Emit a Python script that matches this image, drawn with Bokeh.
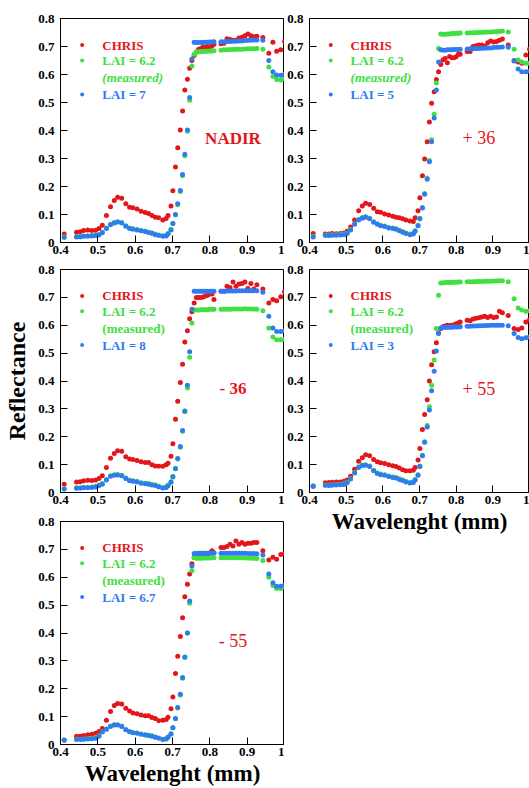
from bokeh.plotting import figure
from bokeh.layouts import row, column
from bokeh.models import FixedTicker, Label
from bokeh.embed import file_html
from bokeh.resources import INLINE

# ---------------- data ----------------
wavelength = [0.410, 0.443, 0.453, 0.462, 0.473, 0.484, 0.494, 0.503, 0.512, 0.523,
              0.534, 0.544, 0.553, 0.564, 0.575, 0.585, 0.594, 0.605, 0.616, 0.627,
              0.636, 0.645, 0.654, 0.663, 0.674, 0.683, 0.688, 0.696, 0.701, 0.708,
              0.714, 0.721, 0.727, 0.733, 0.740, 0.746, 0.752, 0.758, 0.764, 0.770,
              0.776, 0.782, 0.788, 0.794, 0.800, 0.806, 0.811, 0.830, 0.838, 0.846,
              0.854, 0.862, 0.870, 0.878, 0.886, 0.894, 0.902, 0.910, 0.918, 0.926,
              0.942, 0.958, 0.969, 0.979, 0.990, 1.000]

# NADIR
nadir_chris = [0.030, 0.037, 0.038, 0.043, 0.045, 0.043, 0.044, 0.050, 0.062, 0.096,
               0.128, 0.150, 0.162, 0.158, 0.138, 0.126, 0.124, 0.120, 0.112, 0.107,
               0.104, 0.096, 0.090, 0.088, 0.080, 0.086, 0.096, 0.130, 0.185, 0.270,
               0.338, 0.402, 0.470, 0.545, 0.583, 0.622, 0.650, 0.668, 0.680, 0.690,
               0.693, 0.698, 0.697, 0.700, 0.697, 0.703, 0.708, 0.710, 0.712, 0.728,
               0.725, 0.722, 0.722, 0.730, 0.733, 0.738, 0.745, 0.738, 0.735, 0.737,
               0.732, 0.676, 0.715, 0.683, 0.688, 0.718]
nadir_meas = [0.020, 0.021, 0.022, 0.023, 0.024, 0.025, 0.026, 0.029, 0.037, 0.052,
              0.065, 0.071, 0.074, 0.071, 0.060, 0.052, 0.049, 0.046, 0.043, 0.040,
              0.037, 0.034, 0.030, 0.027, 0.024, 0.025, 0.032, 0.046, 0.068, 0.098,
              0.135, 0.182, 0.238, 0.310, 0.397, 0.508, 0.630, 0.672, 0.680, 0.681,
              0.682, 0.682, 0.683, 0.683, 0.684, 0.684, 0.685, 0.687, 0.688, 0.688,
              0.689, 0.689, 0.690, 0.690, 0.690, 0.691, 0.692, 0.692, 0.692, 0.693,
              0.690, 0.627, 0.593, 0.582, 0.580, 0.585]
nadir_fit = [0.018, 0.020, 0.020, 0.022, 0.022, 0.023, 0.025, 0.027, 0.035, 0.050,
             0.063, 0.070, 0.073, 0.070, 0.058, 0.050, 0.047, 0.045, 0.042, 0.039,
             0.036, 0.033, 0.028, 0.025, 0.022, 0.023, 0.030, 0.045, 0.068, 0.100,
             0.138, 0.186, 0.243, 0.315, 0.402, 0.518, 0.655, 0.715, 0.714, 0.714,
             0.714, 0.715, 0.715, 0.715, 0.716, 0.716, 0.717, 0.717, 0.717, 0.718,
             0.718, 0.719, 0.719, 0.720, 0.720, 0.721, 0.722, 0.722, 0.723, 0.723,
             0.722, 0.650, 0.610, 0.598, 0.597, 0.600]

# +36
p36_chris = [0.032, 0.030, 0.030, 0.032, 0.031, 0.032, 0.034, 0.040, 0.055, 0.080,
             0.113, 0.130, 0.140, 0.136, 0.122, 0.110, 0.108, 0.102, 0.098, 0.094,
             0.090, 0.088, 0.085, 0.080, 0.077, 0.075, 0.088, 0.113, 0.160, 0.238,
             0.298, 0.360, 0.430, 0.497, 0.538, 0.582, 0.610, 0.636, 0.652, 0.657,
             0.642, 0.664, 0.660, 0.660, 0.663, 0.672, 0.672, 0.682, 0.682, 0.700,
             0.703, 0.705, 0.705, 0.702, 0.713, 0.720, 0.716, 0.718, 0.722, 0.727,
             0.705, 0.650, 0.645, 0.640, 0.670, 0.690]
p36_meas = [0.022, 0.027, 0.027, 0.028, 0.028, 0.029, 0.030, 0.034, 0.047, 0.067,
            0.082, 0.089, 0.092, 0.087, 0.074, 0.067, 0.062, 0.059, 0.054, 0.052,
            0.049, 0.044, 0.039, 0.034, 0.030, 0.032, 0.042, 0.062, 0.087, 0.125,
            0.175, 0.230, 0.293, 0.367, 0.458, 0.570, 0.693, 0.745, 0.743, 0.744,
            0.745, 0.745, 0.746, 0.746, 0.747, 0.747, 0.748, 0.748, 0.749, 0.749,
            0.750, 0.750, 0.751, 0.751, 0.752, 0.752, 0.753, 0.754, 0.754, 0.755,
            0.752, 0.690, 0.652, 0.645, 0.640, 0.640]
p36_fit = [0.020, 0.025, 0.025, 0.026, 0.026, 0.027, 0.028, 0.032, 0.045, 0.065,
           0.080, 0.087, 0.090, 0.085, 0.072, 0.065, 0.060, 0.057, 0.052, 0.050,
           0.047, 0.042, 0.037, 0.032, 0.028, 0.030, 0.040, 0.060, 0.085, 0.123,
           0.172, 0.226, 0.288, 0.360, 0.445, 0.545, 0.645, 0.688, 0.687, 0.687,
           0.688, 0.688, 0.688, 0.689, 0.689, 0.689, 0.690, 0.691, 0.692, 0.692,
           0.693, 0.693, 0.694, 0.694, 0.695, 0.695, 0.696, 0.697, 0.697, 0.698,
           0.697, 0.648, 0.620, 0.610, 0.610, 0.612]

# -36
m36_chris = [0.030, 0.038, 0.039, 0.042, 0.044, 0.043, 0.045, 0.050, 0.060, 0.090,
             0.123, 0.140, 0.150, 0.148, 0.128, 0.120, 0.118, 0.115, 0.110, 0.108,
             0.108, 0.100, 0.095, 0.094, 0.094, 0.100, 0.105, 0.130, 0.175, 0.263,
             0.327, 0.395, 0.460, 0.540, 0.580, 0.623, 0.648, 0.680, 0.700, 0.700,
             0.700, 0.701, 0.705, 0.708, 0.712, 0.712, 0.692, 0.722, 0.722, 0.740,
             0.735, 0.755, 0.740, 0.748, 0.750, 0.755, 0.732, 0.750, 0.730, 0.745,
             0.730, 0.680, 0.692, 0.688, 0.702, 0.720]
m36_meas = [0.014, 0.017, 0.017, 0.019, 0.019, 0.020, 0.022, 0.027, 0.032, 0.047,
            0.060, 0.064, 0.065, 0.062, 0.052, 0.044, 0.042, 0.040, 0.035, 0.033,
            0.032, 0.029, 0.027, 0.022, 0.018, 0.020, 0.026, 0.039, 0.058, 0.087,
            0.120, 0.162, 0.220, 0.290, 0.375, 0.485, 0.608, 0.655, 0.655, 0.655,
            0.656, 0.656, 0.656, 0.656, 0.657, 0.657, 0.657, 0.657, 0.657, 0.657,
            0.657, 0.658, 0.658, 0.658, 0.658, 0.659, 0.658, 0.658, 0.658, 0.657,
            0.652, 0.590, 0.558, 0.548, 0.548, 0.550]
m36_fit = [0.012, 0.015, 0.015, 0.017, 0.017, 0.018, 0.020, 0.025, 0.030, 0.045,
           0.058, 0.062, 0.063, 0.060, 0.050, 0.042, 0.040, 0.038, 0.033, 0.031,
           0.030, 0.027, 0.025, 0.020, 0.016, 0.018, 0.024, 0.037, 0.056, 0.085,
           0.122, 0.165, 0.222, 0.292, 0.385, 0.505, 0.657, 0.722, 0.722, 0.722,
           0.722, 0.722, 0.722, 0.722, 0.722, 0.722, 0.722, 0.722, 0.722, 0.723,
           0.723, 0.723, 0.723, 0.724, 0.724, 0.724, 0.724, 0.724, 0.724, 0.724,
           0.718, 0.632, 0.590, 0.578, 0.578, 0.580]

# +55
p55_chris = [0.022, 0.035, 0.036, 0.037, 0.038, 0.038, 0.040, 0.045, 0.058, 0.083,
             0.112, 0.125, 0.135, 0.132, 0.118, 0.110, 0.107, 0.104, 0.100, 0.096,
             0.093, 0.088, 0.082, 0.078, 0.078, 0.080, 0.090, 0.117, 0.158, 0.226,
             0.280, 0.333, 0.400, 0.458, 0.505, 0.537, 0.572, 0.588, 0.595, 0.597,
             0.600, 0.598, 0.600, 0.602, 0.605, 0.608, 0.612, 0.618, 0.616, 0.622,
             0.625, 0.627, 0.630, 0.632, 0.628, 0.632, 0.628, 0.630, 0.650, 0.645,
             0.635, 0.588, 0.585, 0.590, 0.612, 0.620]
p55_meas = [0.024, 0.027, 0.027, 0.028, 0.029, 0.030, 0.031, 0.037, 0.050, 0.072,
            0.092, 0.099, 0.100, 0.095, 0.080, 0.070, 0.066, 0.064, 0.059, 0.056,
            0.054, 0.049, 0.045, 0.040, 0.036, 0.038, 0.047, 0.064, 0.095, 0.134,
            0.182, 0.240, 0.308, 0.385, 0.475, 0.588, 0.708, 0.752, 0.752, 0.753,
            0.753, 0.753, 0.754, 0.754, 0.754, 0.755, 0.755, 0.756, 0.756, 0.756,
            0.757, 0.757, 0.757, 0.758, 0.758, 0.758, 0.759, 0.759, 0.760, 0.760,
            0.756, 0.695, 0.662, 0.655, 0.650, 0.652]
p55_fit = [0.022, 0.025, 0.025, 0.026, 0.027, 0.028, 0.029, 0.035, 0.048, 0.070,
           0.090, 0.097, 0.098, 0.093, 0.078, 0.068, 0.064, 0.062, 0.057, 0.054,
           0.052, 0.047, 0.043, 0.038, 0.034, 0.036, 0.045, 0.062, 0.093, 0.132,
           0.180, 0.235, 0.296, 0.365, 0.435, 0.508, 0.570, 0.590, 0.592, 0.592,
           0.593, 0.593, 0.593, 0.594, 0.594, 0.594, 0.595, 0.596, 0.596, 0.597,
           0.597, 0.598, 0.598, 0.599, 0.599, 0.600, 0.600, 0.600, 0.600, 0.600,
           0.598, 0.570, 0.556, 0.552, 0.555, 0.558]

# -55
m55_chris = [0.015, 0.030, 0.030, 0.032, 0.035, 0.037, 0.040, 0.047, 0.057, 0.087,
             0.118, 0.140, 0.147, 0.145, 0.130, 0.120, 0.113, 0.110, 0.106, 0.103,
             0.103, 0.097, 0.093, 0.085, 0.087, 0.090, 0.098, 0.128, 0.170, 0.255,
             0.317, 0.387, 0.455, 0.530, 0.575, 0.612, 0.648, 0.672, 0.672, 0.675,
             0.680, 0.683, 0.685, 0.685, 0.688, 0.695, 0.688, 0.707, 0.707, 0.710,
             0.718, 0.712, 0.730, 0.718, 0.725, 0.718, 0.722, 0.722, 0.725, 0.725,
             0.695, 0.662, 0.672, 0.665, 0.682, 0.685]
m55_meas = [0.016, 0.019, 0.019, 0.020, 0.021, 0.022, 0.023, 0.031, 0.046, 0.056,
            0.066, 0.071, 0.071, 0.066, 0.054, 0.047, 0.043, 0.041, 0.038, 0.035,
            0.033, 0.031, 0.027, 0.023, 0.019, 0.021, 0.027, 0.039, 0.060, 0.092,
            0.131, 0.178, 0.238, 0.312, 0.400, 0.507, 0.623, 0.670, 0.668, 0.668,
            0.668, 0.669, 0.669, 0.669, 0.669, 0.670, 0.670, 0.670, 0.670, 0.670,
            0.670, 0.670, 0.670, 0.670, 0.670, 0.669, 0.669, 0.668, 0.668, 0.667,
            0.660, 0.600, 0.570, 0.560, 0.560, 0.565]
m55_fit = [0.015, 0.018, 0.018, 0.019, 0.020, 0.021, 0.022, 0.030, 0.045, 0.055,
           0.065, 0.070, 0.070, 0.065, 0.053, 0.046, 0.042, 0.040, 0.037, 0.034,
           0.032, 0.030, 0.026, 0.022, 0.018, 0.020, 0.026, 0.038, 0.060, 0.093,
           0.133, 0.180, 0.240, 0.314, 0.400, 0.515, 0.640, 0.685, 0.685, 0.686,
           0.686, 0.686, 0.686, 0.686, 0.686, 0.687, 0.687, 0.686, 0.686, 0.686,
           0.686, 0.686, 0.686, 0.686, 0.686, 0.686, 0.685, 0.685, 0.685, 0.684,
           0.680, 0.612, 0.580, 0.568, 0.568, 0.572]

x_ticks = [0.4, 0.5, 0.6, 0.7, 0.8, 0.9, 1.0]
y_ticks = [0.0, 0.1, 0.2, 0.3, 0.4, 0.5, 0.6, 0.7, 0.8]
fit_labels = ["LAI = 7", "LAI = 5", "LAI = 8", "LAI = 3", "LAI = 6.7"]
angle_labels = ["NADIR", "+ 36", "- 36", "+ 55", "- 55"]

RED = "#e3161b"
GREEN = "#3fe03f"
BLUE = "#2f7cf2"
SERIF = "Liberation Serif"


def panel(width, height, bl, br, bt, bb, chris, meas, fit, fit_label, angle,
          angle_bold, angle_size, italic, xlabel=None, ylabel=None):
    p = figure(width=width, height=height, x_range=(0.4, 1.0), y_range=(0.0, 0.8),
               output_backend="svg", toolbar_location=None,
               min_border_left=bl, min_border_right=br,
               min_border_top=bt, min_border_bottom=bb)
    p.xgrid.visible = False
    p.ygrid.visible = False
    p.outline_line_color = "black"
    p.outline_line_width = 1
    p.background_fill_color = "white"
    p.border_fill_color = "white"

    p.xaxis.ticker = FixedTicker(ticks=x_ticks)
    p.yaxis.ticker = FixedTicker(ticks=y_ticks)
    p.xaxis.major_label_overrides = {1.0: "1"}
    p.yaxis.major_label_overrides = {0.0: "0"}
    for ax in (p.xaxis[0], p.yaxis[0]):
        ax.major_tick_in = 7
        ax.major_tick_out = 0
        ax.minor_tick_line_color = None
        ax.axis_line_color = "black"
        ax.major_tick_line_color = "black"
        ax.major_label_text_font = SERIF
        ax.major_label_text_font_style = "bold"
        ax.major_label_text_font_size = "13px"
        ax.major_label_text_color = "black"
    p.yaxis.major_label_standoff = 6
    p.xaxis.major_label_standoff = 3
    if xlabel:
        p.xaxis.axis_label = xlabel
        p.xaxis.axis_label_text_font = SERIF
        p.xaxis.axis_label_text_font_style = "bold"
        p.xaxis.axis_label_text_font_size = "23px"
        p.xaxis.axis_label_text_color = "black"
        p.xaxis.axis_label_standoff = 2
    if ylabel:
        p.yaxis.axis_label = ylabel
        p.yaxis.axis_label_text_font = SERIF
        p.yaxis.axis_label_text_font_style = "bold"
        p.yaxis.axis_label_text_font_size = "24px"
        p.yaxis.axis_label_text_color = "black"
        p.yaxis.axis_label_standoff = 5

    p.scatter(wavelength, chris, size=5, fill_color=RED, line_color=None)
    p.scatter(wavelength, meas, size=5, fill_color=GREEN, line_color=None)
    p.scatter(wavelength, fit, size=5, fill_color=BLUE, line_color=None)

    # legend (drawn by hand: each label has its own colour)
    mx, tx = 0.458, 0.512
    rows = [0.705, 0.650, 0.589, 0.529]
    p.scatter([mx, mx, mx], [rows[0], rows[1], rows[3]], size=4,
              fill_color=[RED, GREEN, BLUE], line_color=None)
    items = [("CHRIS", RED, rows[0], "bold"),
             ("LAI = 6.2", GREEN, rows[1], "bold"),
             ("(measured)", GREEN, rows[2], "bold italic" if italic else "bold"),
             (fit_label, BLUE, rows[3], "bold")]
    for txt, col, yy, style in items:
        p.add_layout(Label(x=tx, y=yy, text=txt, text_color=col,
                           text_font=SERIF, text_font_style=style,
                           text_font_size="13px", text_baseline="middle",
                           text_align="left"))
    p.add_layout(Label(x=0.862, y=0.373, text=angle, text_color=RED,
                       text_font=SERIF,
                       text_font_style="bold" if angle_bold else "normal",
                       text_font_size=angle_size, text_baseline="middle",
                       text_align="center"))
    return p


p1 = panel(284, 261, 60, 0, 18, 19, nadir_chris, nadir_meas, nadir_fit,
           fit_labels[0], angle_labels[0], True, "17px", True)
p2 = panel(245, 261, 22, 0, 18, 19, p36_chris, p36_meas, p36_fit,
           fit_labels[1], angle_labels[1], False, "18px", True)
p3 = panel(284, 252, 60, 0, 8, 21, m36_chris, m36_meas, m36_fit,
           fit_labels[2], angle_labels[2], True, "17px", False,
           ylabel="Reflectance")
p4 = panel(245, 281, 21, 0, 8, 50, p55_chris, p55_meas, p55_fit,
           fit_labels[3], angle_labels[3], False, "18px", False,
           xlabel="Wavelenght (mm)")
p5 = panel(284, 275, 60, 0, 8, 44, m55_chris, m55_meas, m55_fit,
           fit_labels[4], angle_labels[4], False, "18px", False,
           xlabel="Wavelenght (mm)")

layout = row(column(p1, p3, p5, spacing=0), column(p2, p4, spacing=0), spacing=0)

open("out.html", "w").write(file_html(layout, INLINE))
